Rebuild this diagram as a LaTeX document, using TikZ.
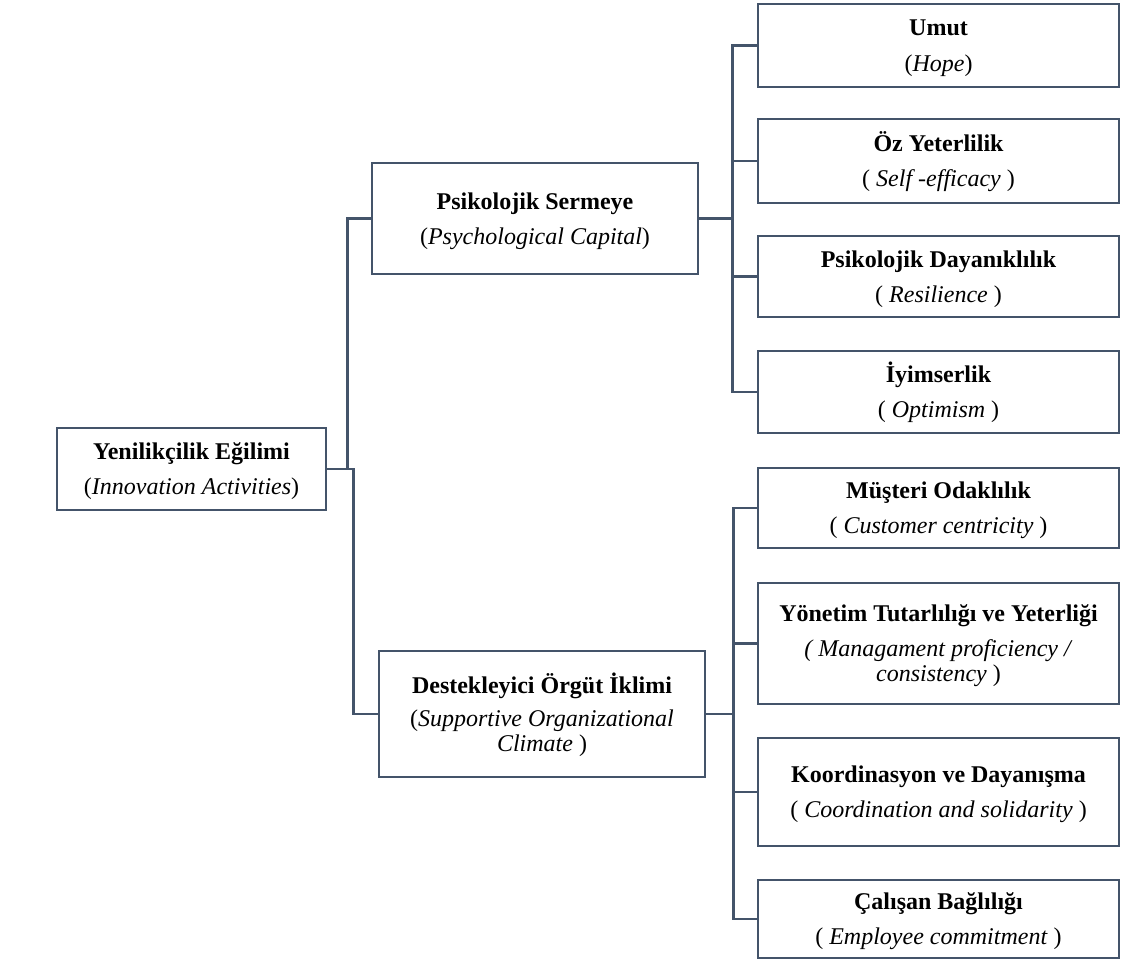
\documentclass[tikz,border=0pt]{standalone}
\usepackage{fontspec}
\setmainfont{Liberation Serif}
\definecolor{boxline}{RGB}{68,84,106}
\newcommand{\topstrut}{\rule{0pt}{21.5pt}}
\begin{document}
\begin{tikzpicture}[x=1pt,y=-1pt,
  box/.style={draw=boxline,line width=2.7pt,fill=white,inner sep=0pt,align=center,
    font=\fontsize{24}{25}\selectfont},
  leaf/.style={box,minimum width=361pt},
  conn/.style={draw=boxline,line width=2.7pt}]
\useasboundingbox (0,0) rectangle (1121,961);
% root and middle level
\node[box,minimum width=269pt,minimum height=82pt] (root) at (191.5,469)
  {\topstrut\textbf{Yenilikçilik Eğilimi}\\[10pt](\textit{Innovation Activities})};
\node[box,minimum width=326pt,minimum height=111pt] (psy) at (535,218.5)
  {\topstrut\textbf{Psikolojik Sermeye}\\[10pt](\textit{Psychological Capital})};
\node[box,minimum width=326pt,minimum height=126pt] (des) at (542,714)
  {\topstrut\textbf{Destekleyici Örgüt İklimi}\\[8pt](\textit{Supportive Organizational}\\\textit{Climate} )};
% leaves
\node[leaf,minimum height=83pt] (umut) at (938.5,45.5)
  {\topstrut\textbf{Umut}\\[11pt](\textit{Hope})};
\node[leaf,minimum height=84pt] (oz) at (938.5,161)
  {\topstrut\textbf{Öz Yeterlilik}\\[10pt]( \textit{Self -efficacy} )};
\node[leaf,minimum height=81pt] (pd) at (938.5,276.5)
  {\topstrut\textbf{Psikolojik Dayanıklılık}\\[10pt]( \textit{Resilience} )};
\node[leaf,minimum height=82pt] (iy) at (938.5,392)
  {\topstrut\textbf{İyimserlik}\\[10pt]( \textit{Optimism} )};
\node[leaf,minimum height=80pt] (mu) at (938.5,508)
  {\topstrut\textbf{Müşteri Odaklılık}\\[10pt]( \textit{Customer centricity} )};
\node[leaf,minimum height=121pt] (yo) at (938.5,643.5)
  {\topstrut\textbf{Yönetim Tutarlılığı ve Yeterliği}\\[10pt]\textit{( Managament proficiency /}\\\textit{consistency} )};
\node[leaf,minimum height=108pt] (ko) at (938.5,792)
  {\topstrut\textbf{Koordinasyon ve Dayanışma}\\[10pt]( \textit{Coordination and solidarity} )};
\node[leaf,minimum height=78pt] (ca) at (938.5,919)
  {\topstrut\textbf{Çalışan Bağlılığı}\\[10pt]( \textit{Employee commitment} )};
% connectors
\draw[conn] (root.east) -- ++(20,0) |- (psy.west);
\draw[conn] (root.east) -- ++(26,0) |- (des.west);
\foreach \t in {umut,oz,pd,iy}
  \draw[conn] (psy.east) -- ++(33,0) |- (\t.west);
\foreach \t in {mu,yo,ko,ca}
  \draw[conn] (des.east) -- ++(27,0) |- (\t.west);
\end{tikzpicture}
\end{document}
